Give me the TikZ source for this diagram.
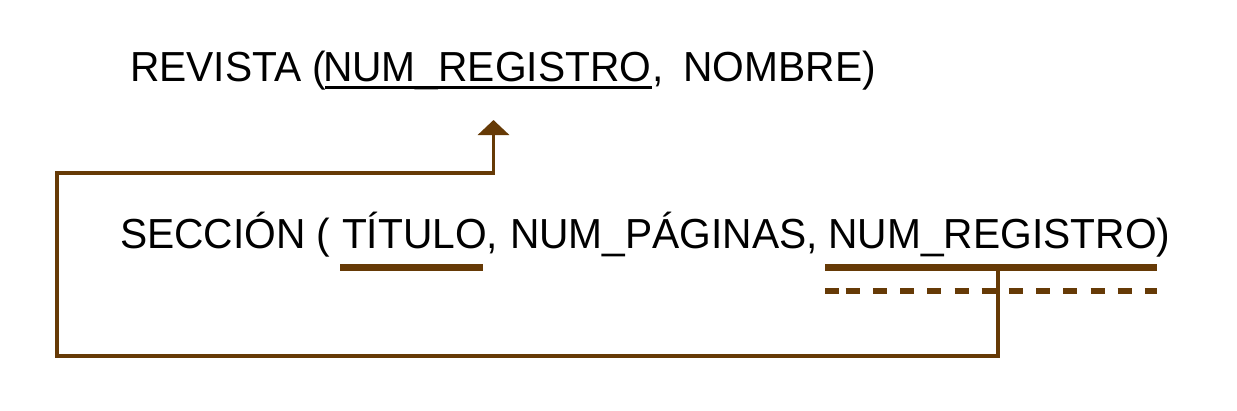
\documentclass[tikz,border=0pt]{standalone}
\usepackage{fontspec}
\setmainfont[FakeStretch=0.97]{Liberation Sans}
\usetikzlibrary{arrows.meta}
\definecolor{brn}{RGB}{102,58,6}
\tikzset{
  txt/.style={anchor=base west, inner sep=0pt, outer sep=0pt, font=\fontsize{42}{50}\selectfont, text=black},
  pkline/.style={draw=brn, line width=6.6pt},
  fkline/.style={draw=brn, line width=6.8pt, dash pattern=on 14pt off 13.2pt},
  conn/.style={draw=brn, line width=3.4pt},
  blackul/.style={draw=black, line width=3.2pt}
}
\begin{document}
\begin{tikzpicture}[x=1pt,y=-1pt]
\useasboundingbox (0,0) rectangle (1237,410);
% REVISTA line
\node[txt] (rev) at (130,81.7) {REVISTA (};
\node[txt] (revpk) at (323,81.7) {NUM\_REGISTRO};
\node[txt] (revc) at (652,81.7) {,};
\node[txt] (revn) at (683.5,81.7) {NOMBRE)};
\draw[blackul] (325,87.3) -- (652,87.3);
% SECCION line
\node[txt] (sec) at (120,248.3) {SECCIÓN (};
\node[txt] (tit) at (342,248.3) {TÍTULO};
\node[txt] (titc) at (tit.base east) {,};
\node[txt] (pag) at (510,248.3) {NUM\_PÁGINAS,};
\node[txt] (secfk) at (828.5,248.3) {NUM\_REGISTRO)};
\draw[pkline] (340,267.7) -- (483,267.7);
\draw[pkline] (825,267.7) -- (1157,267.7);
\draw[fkline] (825,291) -- (839,291);
\draw[fkline] (845.7,291) -- (1157,291);
% connector
\coordinate (fk) at (998,271);
\coordinate (pk) at (493.5,120);
\draw[conn, -{Triangle[width=31pt,length=15pt]}, line join=miter]
  (fk) -- (998,356) -- (57,356) -- (57,173) -- (493.5,173) -- (pk);
\end{tikzpicture}
\end{document}
